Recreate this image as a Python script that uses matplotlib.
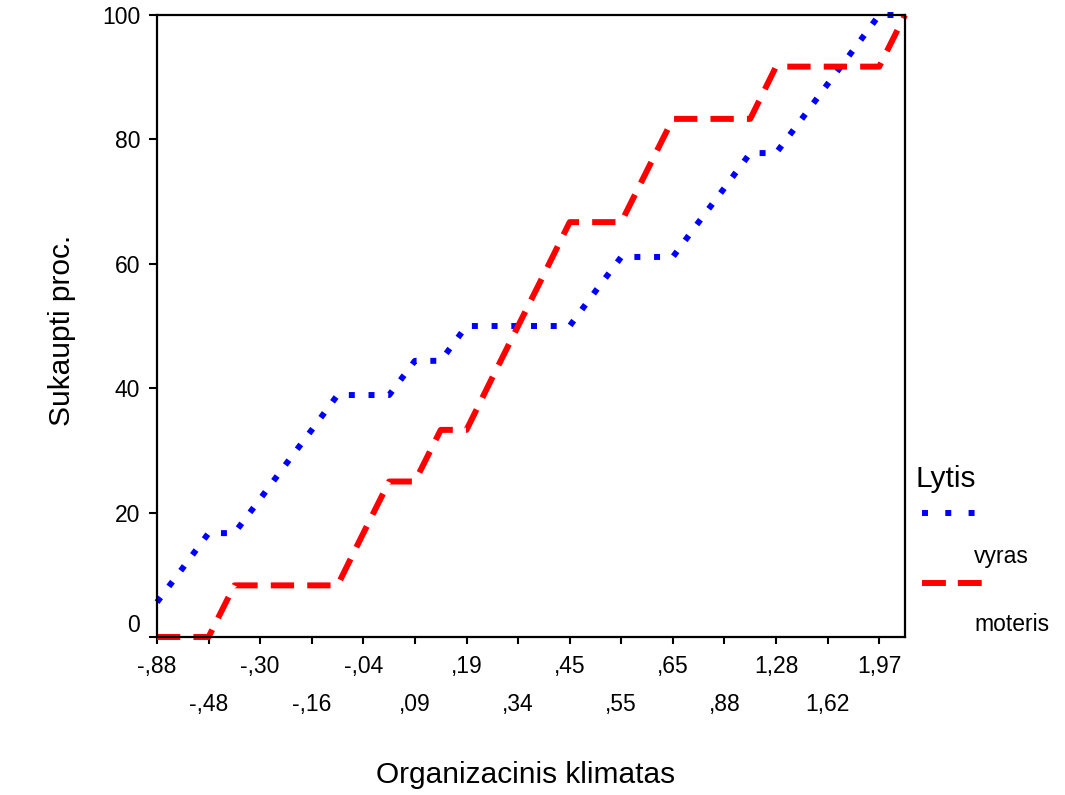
import numpy as np
import matplotlib
matplotlib.use("Agg")
import matplotlib.pyplot as plt
from matplotlib.lines import Line2D

plt.rcParams["font.family"] = ["Liberation Sans", "DejaVu Sans"]

# Tick labels (every other distinct value of the climate score is labelled)
upper_labels = ["-,88", "-,30", "-,04", ",19", ",45", ",65", "1,28", "1,97"]
lower_labels = ["-,48", "-,16", ",09", ",34", ",55", ",88", "1,62"]
n_categories = 30

# Cumulative percent by gender over the 30 ordered categories
vyras = [5.6, 11.1, 16.7, 16.7, 22.2, 27.8, 33.3, 38.9, 38.9, 38.9,
         44.4, 44.4, 50.0, 50.0, 50.0, 50.0, 50.0, 55.6, 61.1, 61.1,
         61.1, 66.7, 72.2, 77.8, 77.8, 83.3, 88.9, 94.4, 100.0, 100.0]
moteris = [0.0, 0.0, 0.0, 8.3, 8.3, 8.3, 8.3, 8.3, 16.7, 25.0,
           25.0, 33.3, 33.3, 41.7, 50.0, 58.3, 66.7, 66.7, 66.7, 75.0,
           83.3, 83.3, 83.3, 83.3, 91.7, 91.7, 91.7, 91.7, 91.7, 100.0]
y_ticks = [0, 20, 40, 60, 80, 100]

W, H = 1065, 795
fig = plt.figure(figsize=(W / 100, H / 100), dpi=100)
ax = fig.add_axes([157 / W, 1 - 637 / H, (905 - 157) / W, (637 - 15) / H])

x = np.arange(n_categories)
lw = 4.3
blue_line, = ax.plot(x, vyras, color="#0000ff", lw=lw, clip_on=False,
                     linestyle=(0, (1.0, 2.3)), solid_joinstyle="miter")
red_line, = ax.plot(x, moteris, color="#ff0000", lw=lw, clip_on=False,
                    linestyle=(0, (3.9, 2.2)), solid_joinstyle="miter")

ax.set_xlim(0, n_categories - 1)
ax.set_ylim(0, 100)

# Staggered category labels: majors on the upper row, minors on the lower row
ax.set_xticks(np.arange(0, 29, 4))
ax.set_xticklabels(upper_labels)
ax.set_xticks(np.arange(2, 27, 4), minor=True)
ax.set_xticklabels(lower_labels, minor=True)
ax.tick_params(axis="x", which="both", direction="out", length=5, width=1.5,
               labelsize=16.5, color="black")
ax.tick_params(axis="x", which="major", pad=8)
ax.tick_params(axis="x", which="minor", pad=35)

ax.set_yticks(y_ticks)
ax.set_yticklabels([""] + [str(v) for v in y_ticks[1:]])
ax.tick_params(axis="y", direction="out", length=6, width=1.5,
               labelsize=16.5, pad=6)
ax.annotate("0", xy=(0, 0), xycoords=("axes fraction", "data"),
            xytext=(-17, 11), textcoords="offset pixels",
            ha="right", va="center", fontsize=16.5)

for s in ax.spines.values():
    s.set_linewidth(1.6)
    s.set_color("black")

fig.text(62 / W, 1 - 330 / H, "Sukaupti proc.", rotation=90,
         ha="center", va="center", fontsize=21.5)
fig.text(526 / W, 1 - 775 / H, "Organizacinis klimatas",
         ha="center", va="center", fontsize=21.5)

# Legend block on the right
fig.text(915 / W, 1 - 487 / H, "Lytis", ha="left", va="baseline", fontsize=21.5)
fig.add_artist(Line2D([922 / W, 982 / W], [1 - 513 / H, 1 - 513 / H],
                      transform=fig.transFigure, color="#0000ff", lw=lw,
                      linestyle=(0, (1.0, 2.9))))
fig.text(974 / W, 1 - 563 / H, "vyras", ha="left", va="baseline", fontsize=16.5)
fig.add_artist(Line2D([922 / W, 982 / W], [1 - 583 / H, 1 - 583 / H],
                      transform=fig.transFigure, color="#ff0000", lw=lw,
                      linestyle=(0, (4.0, 2.0))))
fig.text(974 / W, 1 - 631 / H, "moteris", ha="left", va="baseline", fontsize=16.5)

fig.savefig("out.png", dpi=100)
